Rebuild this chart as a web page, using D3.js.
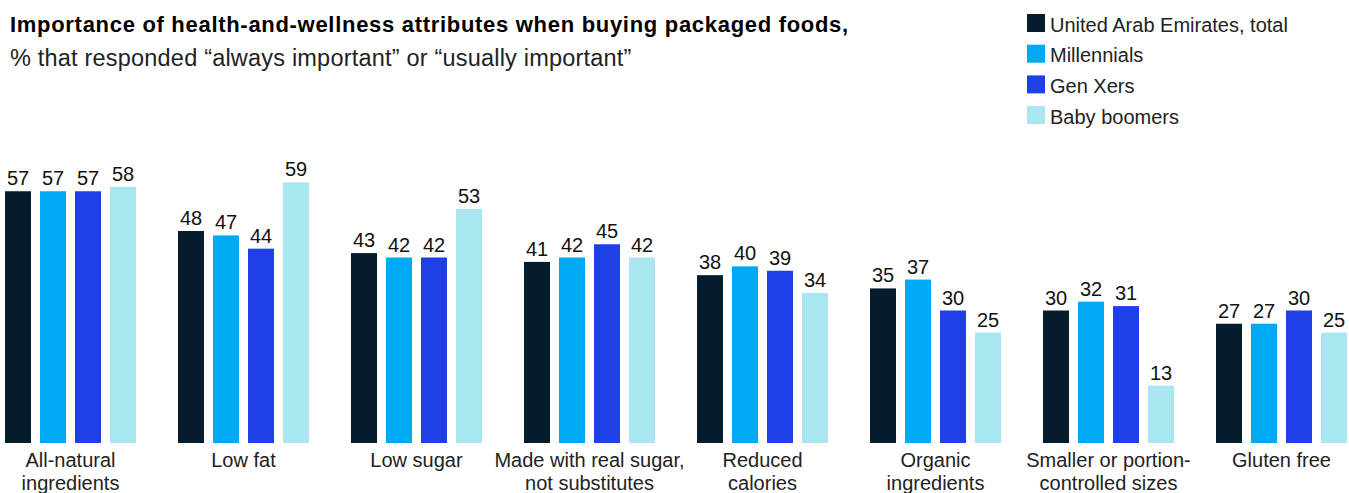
<!DOCTYPE html>
<html>
<head>
<meta charset="utf-8">
<script src="https://cdn.jsdelivr.net/npm/d3@7"></script>
<style>
  body { margin: 0; background: #fff; }
  svg { display: block; font-family: "Liberation Sans", Arial, sans-serif; }
</style>
</head>
<body>
<div id="chart"></div>
<script>
// chart data
const categories = [
    ['All-natural', 'ingredients'],
    ['Low fat'],
    ['Low sugar'],
    ['Made with real sugar,', 'not substitutes'],
    ['Reduced', 'calories'],
    ['Organic', 'ingredients'],
    ['Smaller or portion-', 'controlled sizes'],
    ['Gluten free']
];
const seriesNames = ['United Arab Emirates, total', 'Millennials', 'Gen Xers', 'Baby boomers'];
const seriesColors = ['#051c2c', '#00a9f4', '#1f40e6', '#aae6f0'];
const uaeTotal = [57, 48, 43, 41, 38, 35, 30, 27];
const millennials = [57, 47, 42, 42, 40, 37, 32, 27];
const genXers = [57, 44, 42, 45, 39, 30, 31, 30];
const babyBoomers = [58, 59, 53, 42, 34, 25, 13, 25];
const seriesValues = [uaeTotal, millennials, genXers, babyBoomers];

const width = 1349, height = 493;

const svg = d3.select('#chart')
    .append('svg')
    .attr('width', width)
    .attr('height', height);

// title
svg.append('text')
    .attr('x', 10).attr('y', 32)
    .attr('font-size', 22)
    .attr('font-weight', 700)
    .attr('letter-spacing', 0.7)
    .attr('fill', '#000')
    .text('Importance of health-and-wellness attributes when buying packaged foods,');

svg.append('text')
    .attr('x', 10).attr('y', 66)
    .attr('font-size', 23.5)
    .attr('letter-spacing', 0.2)
    .attr('fill', '#222')
    .text('% that responded \u201Calways important\u201D or \u201Cusually important\u201D');

// legend
const legend = svg.append('g').attr('transform', 'translate(1027,14)');
const legendItem = legend.selectAll('g')
    .data(seriesNames)
    .enter()
    .append('g')
    .attr('transform', (d, i) => `translate(0,${i * 30.7})`);
legendItem.append('rect')
    .attr('width', 18).attr('height', 18)
    .attr('fill', (d, i) => seriesColors[i]);
legendItem.append('text')
    .attr('x', 23).attr('y', 17.5)
    .attr('font-size', 20)
    .attr('fill', '#222')
    .text(d => d);

// scales
const x0 = d3.scaleBand()
    .domain(d3.range(categories.length))
    .range([5, 1347])
    .paddingInner(42 / 173)
    .paddingOuter(0);

const x1 = d3.scaleBand()
    .domain(d3.range(seriesNames.length))
    .range([0, x0.bandwidth()])
    .paddingInner(9 / 35);

const y = d3.scaleLinear()
    .domain([0, 60])
    .range([443, 443 - 265]);

const groups = svg.append('g')
    .selectAll('g')
    .data(categories)
    .enter()
    .append('g')
    .attr('transform', (d, i) => `translate(${x0(i)},0)`);

groups.each(function(cat, ci) {
    const g = d3.select(this);
    const vals = seriesValues.map((s, si) => ({ si, v: s[ci] }));

    g.selectAll('rect')
        .data(vals)
        .enter()
        .append('rect')
        .attr('x', d => x1(d.si))
        .attr('y', d => y(d.v))
        .attr('width', x1.bandwidth())
        .attr('height', d => y(0) - y(d.v))
        .attr('fill', d => seriesColors[d.si]);

    g.selectAll('text.val')
        .data(vals)
        .enter()
        .append('text')
        .attr('class', 'val')
        .attr('x', d => x1(d.si) + x1.bandwidth() / 2)
        .attr('y', d => y(d.v) - 6)
        .attr('text-anchor', 'middle')
        .attr('font-size', 20)
        .attr('fill', '#111')
        .text(d => d.v);

    const label = g.append('text')
        .attr('x', x0.bandwidth() / 2)
        .attr('y', 466.5)
        .attr('text-anchor', 'middle')
        .attr('font-size', 20)
        .attr('fill', '#222');
    cat.forEach((line, li) => {
        label.append('tspan')
            .attr('x', x0.bandwidth() / 2)
            .attr('dy', li === 0 ? 0 : 23.5)
            .text(line);
    });
});
</script>
</body>
</html>
